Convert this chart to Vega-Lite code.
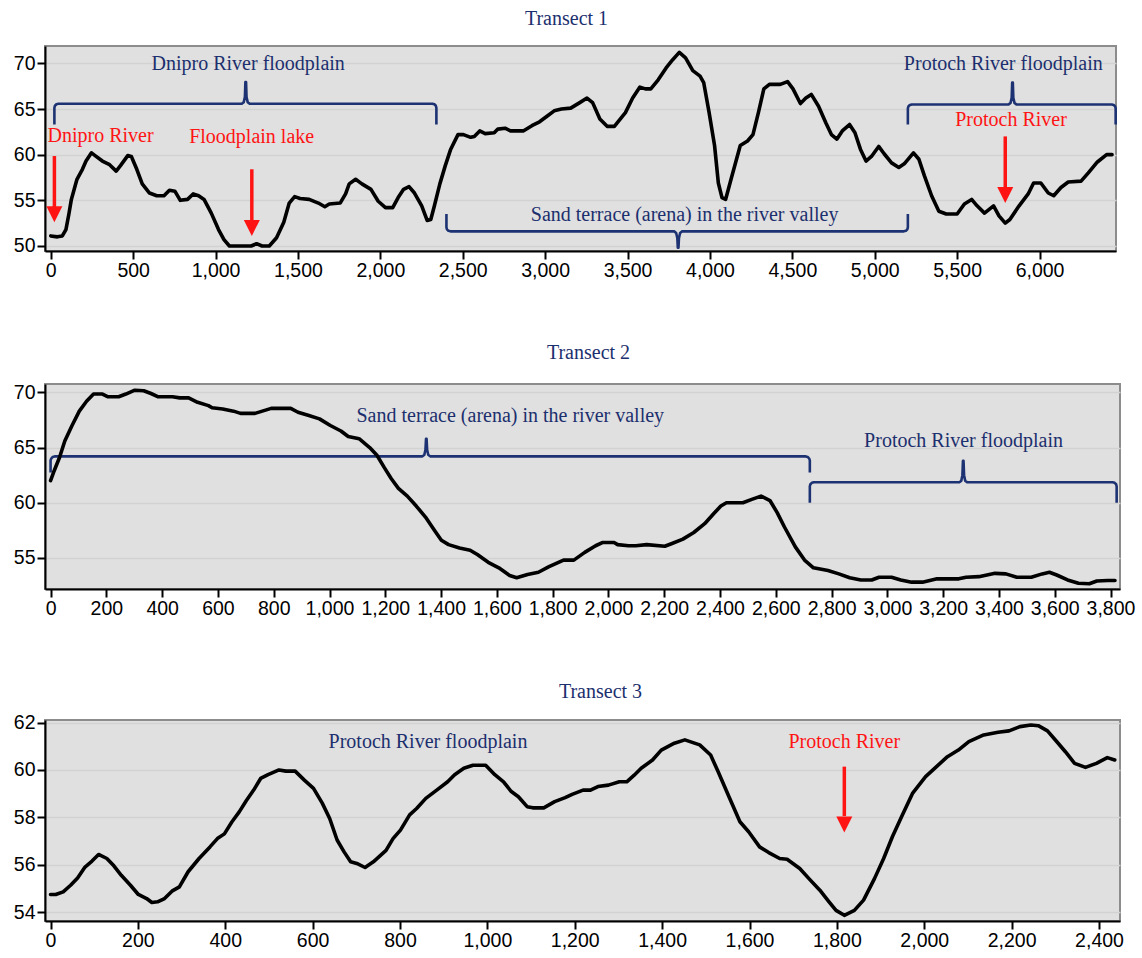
{
  "$schema": "https://vega.github.io/schema/vega-lite/v6.json",
  "background": "white",
  "padding": {"left": 12, "top": 8, "right": 0, "bottom": 0},
  "spacing": 61,
  "config": {
    "view": {"fill": "#e0e0e0", "stroke": "#8c8c8c", "strokeWidth": 2},
    "axis": {
      "domainColor": "#000000", "domainWidth": 2,
      "tickColor": "#000000", "tickWidth": 2, "tickSize": 8,
      "labelFont": "Liberation Sans", "labelFontSize": 19.5, "labelColor": "#000000",
      "labelPadding": 2, "labelOverlap": false, "labelFlush": false,
      "title": null, "gridColor": "#d2d2d2", "gridWidth": 1.5
    },
    "axisX": {"grid": false},
    "axisY": {"grid": true},
    "title": {"font": "Liberation Serif", "fontSize": 20, "fontWeight": "normal", "color": "#1c2f6e", "anchor": "middle"},
    "text": {"font": "Liberation Serif", "fontSize": 20, "align": "center", "baseline": "middle"}
  },
  "datasets": {
    "p1": [
      {"d":0,"h":51.1},{"d":40,"h":51.0},{"d":70,"h":51.1},{"d":92,"h":51.8},{"d":110,"h":53.5},{"d":125,"h":55.1},{"d":159,"h":57.3},{"d":192,"h":58.4},{"d":214,"h":59.3},{"d":247,"h":60.2},{"d":269,"h":59.9},{"d":313,"h":59.3},{"d":357,"h":58.9},{"d":397,"h":58.2},{"d":423,"h":58.8},{"d":467,"h":59.9},{"d":489,"h":59.8},{"d":522,"h":58.4},{"d":555,"h":56.8},{"d":599,"h":55.8},{"d":643,"h":55.5},{"d":687,"h":55.5},{"d":720,"h":56.1},{"d":753,"h":56.0},{"d":786,"h":55.0},{"d":830,"h":55.1},{"d":864,"h":55.7},{"d":897,"h":55.5},{"d":930,"h":55.1},{"d":974,"h":53.6},{"d":1018,"h":51.8},{"d":1051,"h":50.7},{"d":1084,"h":50.0},{"d":1150,"h":50.0},{"d":1216,"h":50.0},{"d":1249,"h":50.25},{"d":1282,"h":50.0},{"d":1326,"h":50.0},{"d":1370,"h":50.9},{"d":1414,"h":52.6},{"d":1447,"h":54.7},{"d":1480,"h":55.4},{"d":1513,"h":55.2},{"d":1568,"h":55.1},{"d":1624,"h":54.7},{"d":1663,"h":54.3},{"d":1690,"h":54.6},{"d":1756,"h":54.7},{"d":1789,"h":55.7},{"d":1811,"h":56.8},{"d":1850,"h":57.3},{"d":1888,"h":56.8},{"d":1943,"h":56.2},{"d":1987,"h":54.9},{"d":2031,"h":54.2},{"d":2075,"h":54.2},{"d":2108,"h":55.3},{"d":2141,"h":56.2},{"d":2174,"h":56.5},{"d":2207,"h":55.8},{"d":2251,"h":54.4},{"d":2284,"h":52.8},{"d":2306,"h":52.9},{"d":2328,"h":54.4},{"d":2361,"h":56.8},{"d":2394,"h":58.8},{"d":2427,"h":60.6},{"d":2471,"h":62.2},{"d":2504,"h":62.2},{"d":2548,"h":61.9},{"d":2570,"h":62.0},{"d":2603,"h":62.6},{"d":2636,"h":62.3},{"d":2691,"h":62.4},{"d":2713,"h":62.8},{"d":2757,"h":62.9},{"d":2790,"h":62.6},{"d":2867,"h":62.6},{"d":2922,"h":63.2},{"d":2966,"h":63.6},{"d":3011,"h":64.2},{"d":3055,"h":64.8},{"d":3099,"h":65.0},{"d":3155,"h":65.1},{"d":3210,"h":65.7},{"d":3254,"h":66.2},{"d":3288,"h":65.7},{"d":3332,"h":63.9},{"d":3376,"h":63.1},{"d":3420,"h":63.1},{"d":3487,"h":64.6},{"d":3531,"h":66.2},{"d":3575,"h":67.4},{"d":3608,"h":67.2},{"d":3641,"h":67.2},{"d":3686,"h":68.2},{"d":3734,"h":69.5},{"d":3774,"h":70.4},{"d":3814,"h":71.2},{"d":3852,"h":70.6},{"d":3896,"h":69.2},{"d":3940,"h":68.6},{"d":3962,"h":67.9},{"d":3995,"h":64.6},{"d":4028,"h":61.0},{"d":4051,"h":56.9},{"d":4073,"h":55.3},{"d":4095,"h":55.1},{"d":4128,"h":57.3},{"d":4184,"h":61.0},{"d":4228,"h":61.5},{"d":4261,"h":62.2},{"d":4294,"h":64.6},{"d":4327,"h":67.2},{"d":4361,"h":67.7},{"d":4427,"h":67.7},{"d":4471,"h":68.0},{"d":4504,"h":67.2},{"d":4549,"h":65.6},{"d":4582,"h":66.2},{"d":4615,"h":66.6},{"d":4659,"h":65.3},{"d":4703,"h":63.5},{"d":4737,"h":62.2},{"d":4770,"h":61.7},{"d":4803,"h":62.6},{"d":4847,"h":63.3},{"d":4880,"h":62.4},{"d":4913,"h":60.6},{"d":4947,"h":59.3},{"d":4980,"h":59.8},{"d":5024,"h":60.9},{"d":5057,"h":60.1},{"d":5102,"h":59.1},{"d":5146,"h":58.6},{"d":5179,"h":59.0},{"d":5235,"h":60.2},{"d":5268,"h":59.5},{"d":5301,"h":57.7},{"d":5345,"h":55.5},{"d":5389,"h":53.8},{"d":5434,"h":53.5},{"d":5500,"h":53.5},{"d":5544,"h":54.6},{"d":5588,"h":55.1},{"d":5621,"h":54.4},{"d":5666,"h":53.6},{"d":5721,"h":54.4},{"d":5754,"h":53.3},{"d":5792,"h":52.5},{"d":5820,"h":52.9},{"d":5876,"h":54.4},{"d":5931,"h":55.7},{"d":5964,"h":56.9},{"d":6008,"h":56.9},{"d":6053,"h":55.8},{"d":6086,"h":55.5},{"d":6130,"h":56.4},{"d":6174,"h":57.0},{"d":6252,"h":57.1},{"d":6296,"h":58.0},{"d":6351,"h":59.2},{"d":6407,"h":60.0},{"d":6440,"h":60.0}
    ],
    "p1b": [
      {"id":"dnipro","s":1,"d":22,"h":63.3},{"id":"dnipro","s":2,"d":22,"h":65.14},{"id":"dnipro","s":3,"d":25.3,"h":65.36},{"id":"dnipro","s":4,"d":34.1,"h":65.52},{"id":"dnipro","s":5,"d":46.3,"h":65.58},
      {"id":"dnipro","s":6,"d":1159,"h":65.58},{"id":"dnipro","s":7,"d":1171,"h":65.75},{"id":"dnipro","s":8,"d":1178,"h":66.3},{"id":"dnipro","s":9,"d":1181,"h":67.96},{"id":"dnipro","s":10,"d":1185,"h":67.96},{"id":"dnipro","s":11,"d":1188,"h":66.3},{"id":"dnipro","s":12,"d":1195,"h":65.75},{"id":"dnipro","s":13,"d":1207,"h":65.58},
      {"id":"dnipro","s":14,"d":2315.7,"h":65.58},{"id":"dnipro","s":15,"d":2327.9,"h":65.52},{"id":"dnipro","s":16,"d":2336.7,"h":65.36},{"id":"dnipro","s":17,"d":2340,"h":65.14},{"id":"dnipro","s":18,"d":2340,"h":63.3},
      {"id":"sand","s":1,"d":2401,"h":53.5},{"id":"sand","s":2,"d":2401,"h":52.04},{"id":"sand","s":3,"d":2404.3,"h":51.82},{"id":"sand","s":4,"d":2413.1,"h":51.66},{"id":"sand","s":5,"d":2425.3,"h":51.6},
      {"id":"sand","s":6,"d":3783,"h":51.6},{"id":"sand","s":7,"d":3795,"h":51.43},{"id":"sand","s":8,"d":3802,"h":50.88},{"id":"sand","s":9,"d":3805,"h":49.8},{"id":"sand","s":10,"d":3809,"h":49.8},{"id":"sand","s":11,"d":3812,"h":50.88},{"id":"sand","s":12,"d":3819,"h":51.43},{"id":"sand","s":13,"d":3831,"h":51.6},
      {"id":"sand","s":14,"d":5176.7,"h":51.6},{"id":"sand","s":15,"d":5188.9,"h":51.66},{"id":"sand","s":16,"d":5197.7,"h":51.82},{"id":"sand","s":17,"d":5201,"h":52.04},{"id":"sand","s":18,"d":5201,"h":53.5},
      {"id":"protoch","s":1,"d":5201,"h":63.3},{"id":"protoch","s":2,"d":5201,"h":65.06},{"id":"protoch","s":3,"d":5204.3,"h":65.28},{"id":"protoch","s":4,"d":5213.1,"h":65.44},{"id":"protoch","s":5,"d":5225.3,"h":65.5},
      {"id":"protoch","s":6,"d":5812,"h":65.5},{"id":"protoch","s":7,"d":5824,"h":65.67},{"id":"protoch","s":8,"d":5831,"h":66.22},{"id":"protoch","s":9,"d":5834,"h":67.9},{"id":"protoch","s":10,"d":5838,"h":67.9},{"id":"protoch","s":11,"d":5841,"h":66.22},{"id":"protoch","s":12,"d":5848,"h":65.67},{"id":"protoch","s":13,"d":5860,"h":65.5},
      {"id":"protoch","s":14,"d":6437.7,"h":65.5},{"id":"protoch","s":15,"d":6449.9,"h":65.44},{"id":"protoch","s":16,"d":6458.7,"h":65.28},{"id":"protoch","s":17,"d":6462,"h":65.06},{"id":"protoch","s":18,"d":6462,"h":63.3}
    ],
    "p1t": [
      {"d":1198,"h":69.9,"text":"Dnipro River floodplain","kind":"zone"},
      {"d":302,"h":62.0,"text":"Dnipro River","kind":"river"},
      {"d":1219,"h":61.9,"text":"Floodplain lake","kind":"river"},
      {"d":3846,"h":53.4,"text":"Sand terrace (arena) in the river valley","kind":"zone"},
      {"d":5780,"h":69.9,"text":"Protoch River floodplain","kind":"zone"},
      {"d":5827,"h":63.8,"text":"Protoch River","kind":"river"}
    ],
    "p1a": [
      {"d":22,"h":59.85,"neck":54.0,"tip":52.6},
      {"d":1220,"h":58.4,"neck":52.5,"tip":51.1},
      {"d":5792,"h":62.0,"neck":56.1,"tip":54.7}
    ],
    "p2": [
      {"d":0,"h":62.0},{"d":13,"h":62.9},{"d":32,"h":64.1},{"d":51,"h":65.6},{"d":77,"h":67.0},{"d":103,"h":68.3},{"d":129,"h":69.2},{"d":154,"h":69.85},{"d":186,"h":69.85},{"d":206,"h":69.6},{"d":244,"h":69.6},{"d":270,"h":69.85},{"d":302,"h":70.2},{"d":334,"h":70.15},{"d":360,"h":69.9},{"d":386,"h":69.6},{"d":437,"h":69.6},{"d":463,"h":69.5},{"d":495,"h":69.5},{"d":527,"h":69.1},{"d":566,"h":68.8},{"d":579,"h":68.6},{"d":617,"h":68.5},{"d":656,"h":68.3},{"d":681,"h":68.1},{"d":733,"h":68.1},{"d":759,"h":68.3},{"d":791,"h":68.55},{"d":861,"h":68.55},{"d":887,"h":68.2},{"d":926,"h":67.9},{"d":964,"h":67.6},{"d":1003,"h":67.0},{"d":1041,"h":66.5},{"d":1067,"h":66.0},{"d":1106,"h":65.8},{"d":1144,"h":65.0},{"d":1170,"h":64.3},{"d":1196,"h":63.2},{"d":1221,"h":62.2},{"d":1247,"h":61.3},{"d":1279,"h":60.6},{"d":1311,"h":59.7},{"d":1344,"h":58.7},{"d":1376,"h":57.5},{"d":1401,"h":56.6},{"d":1427,"h":56.2},{"d":1466,"h":55.9},{"d":1504,"h":55.7},{"d":1530,"h":55.3},{"d":1569,"h":54.6},{"d":1607,"h":54.1},{"d":1646,"h":53.4},{"d":1671,"h":53.2},{"d":1710,"h":53.5},{"d":1749,"h":53.7},{"d":1787,"h":54.2},{"d":1839,"h":54.8},{"d":1876,"h":54.8},{"d":1915,"h":55.5},{"d":1954,"h":56.1},{"d":1980,"h":56.4},{"d":2020,"h":56.4},{"d":2033,"h":56.2},{"d":2072,"h":56.1},{"d":2098,"h":56.1},{"d":2137,"h":56.2},{"d":2202,"h":56.05},{"d":2228,"h":56.3},{"d":2267,"h":56.7},{"d":2306,"h":57.3},{"d":2345,"h":58.1},{"d":2377,"h":59.0},{"d":2403,"h":59.7},{"d":2423,"h":60.0},{"d":2482,"h":60.0},{"d":2514,"h":60.3},{"d":2547,"h":60.6},{"d":2579,"h":60.2},{"d":2605,"h":59.1},{"d":2631,"h":57.8},{"d":2670,"h":56.0},{"d":2703,"h":54.8},{"d":2735,"h":54.1},{"d":2787,"h":53.85},{"d":2826,"h":53.55},{"d":2865,"h":53.2},{"d":2905,"h":53.0},{"d":2944,"h":53.0},{"d":2970,"h":53.25},{"d":3015,"h":53.25},{"d":3048,"h":53.0},{"d":3087,"h":52.8},{"d":3126,"h":52.8},{"d":3178,"h":53.1},{"d":3256,"h":53.1},{"d":3282,"h":53.25},{"d":3328,"h":53.3},{"d":3386,"h":53.6},{"d":3425,"h":53.55},{"d":3464,"h":53.25},{"d":3516,"h":53.25},{"d":3555,"h":53.55},{"d":3581,"h":53.7},{"d":3607,"h":53.45},{"d":3646,"h":53.0},{"d":3685,"h":52.7},{"d":3724,"h":52.65},{"d":3751,"h":52.9},{"d":3790,"h":52.95},{"d":3816,"h":52.95}
    ],
    "p2b": [
      {"id":"sand","s":1,"d":0,"h":62.75},{"id":"sand","s":2,"d":0,"h":63.84},{"id":"sand","s":3,"d":1.9,"h":63.98},{"id":"sand","s":4,"d":7.2,"h":64.15},{"id":"sand","s":5,"d":14.3,"h":64.2},
      {"id":"sand","s":6,"d":1333,"h":64.2},{"id":"sand","s":7,"d":1340,"h":64.35},{"id":"sand","s":8,"d":1344,"h":64.8},{"id":"sand","s":9,"d":1346,"h":65.8},{"id":"sand","s":10,"d":1348,"h":65.8},{"id":"sand","s":11,"d":1350,"h":64.8},{"id":"sand","s":12,"d":1354,"h":64.35},{"id":"sand","s":13,"d":1361,"h":64.2},
      {"id":"sand","s":14,"d":2707.7,"h":64.2},{"id":"sand","s":15,"d":2714.8,"h":64.15},{"id":"sand","s":16,"d":2720.1,"h":63.98},{"id":"sand","s":17,"d":2722,"h":63.84},{"id":"sand","s":18,"d":2722,"h":62.75},
      {"id":"protoch","s":1,"d":2722,"h":60.0},{"id":"protoch","s":2,"d":2722,"h":61.49},{"id":"protoch","s":3,"d":2723.9,"h":61.67},{"id":"protoch","s":4,"d":2729.2,"h":61.8},{"id":"protoch","s":5,"d":2736.3,"h":61.85},
      {"id":"protoch","s":6,"d":3258,"h":61.85},{"id":"protoch","s":7,"d":3265,"h":62.0},{"id":"protoch","s":8,"d":3269,"h":62.5},{"id":"protoch","s":9,"d":3271,"h":63.8},{"id":"protoch","s":10,"d":3273,"h":63.8},{"id":"protoch","s":11,"d":3275,"h":62.5},{"id":"protoch","s":12,"d":3279,"h":62.0},{"id":"protoch","s":13,"d":3286,"h":61.85},
      {"id":"protoch","s":14,"d":3807.7,"h":61.85},{"id":"protoch","s":15,"d":3814.8,"h":61.8},{"id":"protoch","s":16,"d":3820.1,"h":61.67},{"id":"protoch","s":17,"d":3822,"h":61.49},{"id":"protoch","s":18,"d":3822,"h":60.0}
    ],
    "p2t": [
      {"d":1648,"h":67.9,"text":"Sand terrace (arena) in the river valley","kind":"zone"},
      {"d":3273,"h":65.6,"text":"Protoch River floodplain","kind":"zone"}
    ],
    "p3": [
      {"d":0,"h":54.74},{"d":12,"h":54.74},{"d":29,"h":54.85},{"d":46,"h":55.13},{"d":62,"h":55.44},{"d":79,"h":55.9},{"d":95,"h":56.15},{"d":110,"h":56.43},{"d":129,"h":56.26},{"d":145,"h":55.95},{"d":162,"h":55.55},{"d":183,"h":55.13},{"d":201,"h":54.74},{"d":220,"h":54.57},{"d":232,"h":54.4},{"d":245,"h":54.43},{"d":261,"h":54.57},{"d":278,"h":54.88},{"d":295,"h":55.06},{"d":315,"h":55.7},{"d":340,"h":56.26},{"d":365,"h":56.75},{"d":382,"h":57.1},{"d":398,"h":57.3},{"d":415,"h":57.8},{"d":432,"h":58.23},{"d":448,"h":58.7},{"d":465,"h":59.15},{"d":481,"h":59.64},{"d":498,"h":59.8},{"d":523,"h":60.0},{"d":539,"h":59.95},{"d":560,"h":59.95},{"d":581,"h":59.57},{"d":602,"h":59.22},{"d":622,"h":58.6},{"d":639,"h":57.95},{"d":656,"h":57.04},{"d":672,"h":56.54},{"d":687,"h":56.12},{"d":701,"h":56.05},{"d":720,"h":55.88},{"d":739,"h":56.12},{"d":768,"h":56.6},{"d":784,"h":57.1},{"d":801,"h":57.46},{"d":822,"h":58.1},{"d":838,"h":58.37},{"d":859,"h":58.8},{"d":884,"h":59.15},{"d":909,"h":59.5},{"d":925,"h":59.8},{"d":946,"h":60.07},{"d":967,"h":60.2},{"d":996,"h":60.2},{"d":1017,"h":59.8},{"d":1037,"h":59.5},{"d":1054,"h":59.1},{"d":1071,"h":58.87},{"d":1091,"h":58.45},{"d":1104,"h":58.4},{"d":1129,"h":58.4},{"d":1154,"h":58.66},{"d":1178,"h":58.83},{"d":1194,"h":58.97},{"d":1219,"h":59.15},{"d":1236,"h":59.15},{"d":1253,"h":59.3},{"d":1277,"h":59.36},{"d":1302,"h":59.5},{"d":1319,"h":59.5},{"d":1336,"h":59.78},{"d":1352,"h":60.07},{"d":1378,"h":60.42},{"d":1398,"h":60.84},{"d":1428,"h":61.13},{"d":1452,"h":61.27},{"d":1486,"h":61.06},{"d":1511,"h":60.63},{"d":1528,"h":59.93},{"d":1553,"h":58.87},{"d":1578,"h":57.81},{"d":1598,"h":57.39},{"d":1623,"h":56.75},{"d":1644,"h":56.51},{"d":1669,"h":56.26},{"d":1686,"h":56.23},{"d":1715,"h":55.84},{"d":1736,"h":55.41},{"d":1761,"h":54.92},{"d":1782,"h":54.43},{"d":1798,"h":54.07},{"d":1817,"h":53.86},{"d":1840,"h":54.07},{"d":1861,"h":54.5},{"d":1886,"h":55.41},{"d":1907,"h":56.26},{"d":1927,"h":57.18},{"d":1948,"h":58.02},{"d":1973,"h":59.01},{"d":2003,"h":59.72},{"d":2028,"h":60.14},{"d":2053,"h":60.56},{"d":2078,"h":60.84},{"d":2102,"h":61.2},{"d":2136,"h":61.48},{"d":2169,"h":61.59},{"d":2194,"h":61.65},{"d":2219,"h":61.83},{"d":2244,"h":61.9},{"d":2261,"h":61.87},{"d":2282,"h":61.65},{"d":2303,"h":61.2},{"d":2323,"h":60.77},{"d":2344,"h":60.28},{"d":2369,"h":60.11},{"d":2394,"h":60.28},{"d":2419,"h":60.52},{"d":2436,"h":60.42}
    ],
    "p3t": [
      {"d":864,"h":61.17,"text":"Protoch River floodplain","kind":"zone"},
      {"d":1817,"h":61.17,"text":"Protoch River","kind":"river"}
    ],
    "p3a": [
      {"d":1817,"h":60.14,"neck":58.05,"tip":57.36}
    ]
  },
  "vconcat": [
    {
      "width": 1071, "height": 205,
      "title": {"text": "Transect 1", "dx": -14, "offset": 17},
      "encoding": {
        "x": {"field": "d", "type": "quantitative", "scale": {"domain": [-35, 6464], "nice": false, "zero": false}, "axis": {"format": ",d", "values": [0,500,1000,1500,2000,2500,3000,3500,4000,4500,5000,5500,6000]}},
        "y": {"field": "h", "type": "quantitative", "scale": {"domain": [49.45, 71.9], "nice": false, "zero": false}, "axis": {"values": [50,55,60,65,70]}}
      },
      "layer": [
        {"data": {"name": "p1b"}, "mark": {"type": "line", "color": "#1c3272", "strokeWidth": 2.6, "strokeJoin": "round"}, "encoding": {"detail": {"field": "id"}, "order": {"field": "s"}}},
        {"data": {"name": "p1"}, "mark": {"type": "line", "color": "#000000", "strokeWidth": 3.6, "strokeJoin": "round", "strokeCap": "round"}, "encoding": {}},
        {"data": {"name": "p1t"}, "mark": {"type": "text"}, "encoding": {"text": {"field": "text"}, "color": {"field": "kind", "type": "nominal", "scale": {"domain": ["zone", "river"], "range": ["#1c2f6e", "#ff1414"]}, "legend": null}}},
        {"data": {"name": "p1a"}, "mark": {"type": "rule", "color": "#ff1414", "strokeWidth": 3.5}, "encoding": {"y2": {"field": "neck"}}},
        {"data": {"name": "p1a"}, "mark": {"type": "point", "shape": "M-1,-2L1,-2L0,0Z", "size": 256, "filled": true, "opacity": 1, "color": "#ff1414"}, "encoding": {"y": {"field": "tip", "type": "quantitative", "scale": {"domain": [49.45, 71.9], "nice": false, "zero": false}}}}
      ]
    },
    {
      "width": 1075, "height": 205,
      "title": {"text": "Transect 2", "dx": 6, "offset": 19},
      "encoding": {
        "x": {"field": "d", "type": "quantitative", "scale": {"domain": [-20, 3834], "nice": false, "zero": false}, "axis": {"format": ",d", "values": [0,200,400,600,800,1000,1200,1400,1600,1800,2000,2200,2400,2600,2800,3000,3200,3400,3600,3800]}},
        "y": {"field": "h", "type": "quantitative", "scale": {"domain": [52.18, 70.76], "nice": false, "zero": false}, "axis": {"values": [55,60,65,70]}}
      },
      "layer": [
        {"data": {"name": "p2b"}, "mark": {"type": "line", "color": "#1c3272", "strokeWidth": 2.6, "strokeJoin": "round"}, "encoding": {"detail": {"field": "id"}, "order": {"field": "s"}}},
        {"data": {"name": "p2"}, "mark": {"type": "line", "color": "#000000", "strokeWidth": 3.6, "strokeJoin": "round", "strokeCap": "round"}, "encoding": {}},
        {"data": {"name": "p2t"}, "mark": {"type": "text", "color": "#1c2f6e"}, "encoding": {"text": {"field": "text"}}}
      ]
    },
    {
      "width": 1075, "height": 201,
      "title": {"text": "Transect 3", "dx": 18, "offset": 11},
      "encoding": {
        "x": {"field": "d", "type": "quantitative", "scale": {"domain": [-12.6, 2448], "nice": false, "zero": false}, "axis": {"format": ",d", "values": [0,200,400,600,800,1000,1200,1400,1600,1800,2000,2200,2400]}},
        "y": {"field": "h", "type": "quantitative", "scale": {"domain": [53.62, 62.11], "nice": false, "zero": false}, "axis": {"values": [54,56,58,60,62]}}
      },
      "layer": [
        {"data": {"name": "p3"}, "mark": {"type": "line", "color": "#000000", "strokeWidth": 3.6, "strokeJoin": "round", "strokeCap": "round"}, "encoding": {}},
        {"data": {"name": "p3t"}, "mark": {"type": "text"}, "encoding": {"text": {"field": "text"}, "color": {"field": "kind", "type": "nominal", "scale": {"domain": ["zone", "river"], "range": ["#1c2f6e", "#ff1414"]}, "legend": null}}},
        {"data": {"name": "p3a"}, "mark": {"type": "rule", "color": "#ff1414", "strokeWidth": 3.5}, "encoding": {"y2": {"field": "neck"}}},
        {"data": {"name": "p3a"}, "mark": {"type": "point", "shape": "M-1,-2L1,-2L0,0Z", "size": 256, "filled": true, "opacity": 1, "color": "#ff1414"}, "encoding": {"y": {"field": "tip", "type": "quantitative", "scale": {"domain": [53.62, 62.11], "nice": false, "zero": false}}}}
      ]
    }
  ]
}
